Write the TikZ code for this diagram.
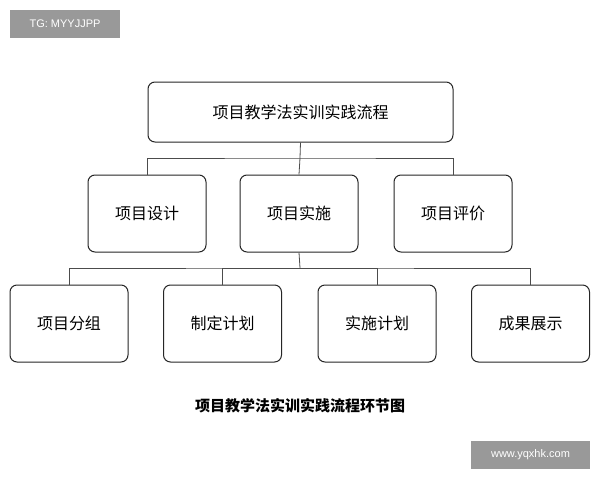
\documentclass[tikz,border=0pt]{standalone}
\usepackage{fontspec}
\setmainfont{Noto Sans CJK SC}
\setsansfont{Liberation Sans}
\begin{document}
\begin{tikzpicture}[x=1pt,y=-1pt,
  box/.style={draw=black!85,line width=1pt,rounded corners=7pt,fill=white,font=\fontsize{16}{18}\selectfont},
  wm/.style={fill=black!40,text=white,font=\sffamily\fontsize{11}{13}\selectfont,inner sep=0pt},
  ln/.style={draw=black!70,line width=0.8pt}]
\useasboundingbox (0,0) rectangle (600,480);
\fill[white] (0,0) rectangle (600,480);
\node[wm,minimum width=110,minimum height=28] (w1) at (65,24) {TG: MYYJJPP};
\node[wm,minimum width=119,minimum height=28] (w2) at (530.5,454.5) {www.yqxhk.com};
\node[box,minimum width=305,minimum height=60] (top) at (300.5,112) {项目教学法实训实践流程};
\foreach \n/\x/\t in {a/147/项目设计,b/299/项目实施,c/453/项目评价}
  \node[box,minimum width=118,minimum height=77] (\n) at (\x,213.5) {\t};
\foreach \n/\x/\t in {d/69/项目分组,e/222.5/制定计划,f/377/实施计划,g/530.5/成果展示}
  \node[box,minimum width=118,minimum height=77] (\n) at (\x,323.5) {\t};
\coordinate (j1) at (300,158);
\coordinate (j2) at (300,268);
\draw[ln] (top.south) -- (j1);
\draw[ln] (a.north) |- (j1) -| (c.north);
\draw[ln] (j1) -- (b.north);
\draw[ln] (b.south) -- (j2);
\draw[ln] (d.north) |- (j2) -| (g.north);
\draw[ln] (e.north) |- (j2);
\draw[ln] (f.north) |- (j2);
\node[font=\bfseries\fontsize{15}{17}\selectfont] (cap) at (300,406) {项目教学法实训实践流程环节图};
\end{tikzpicture}
\end{document}
